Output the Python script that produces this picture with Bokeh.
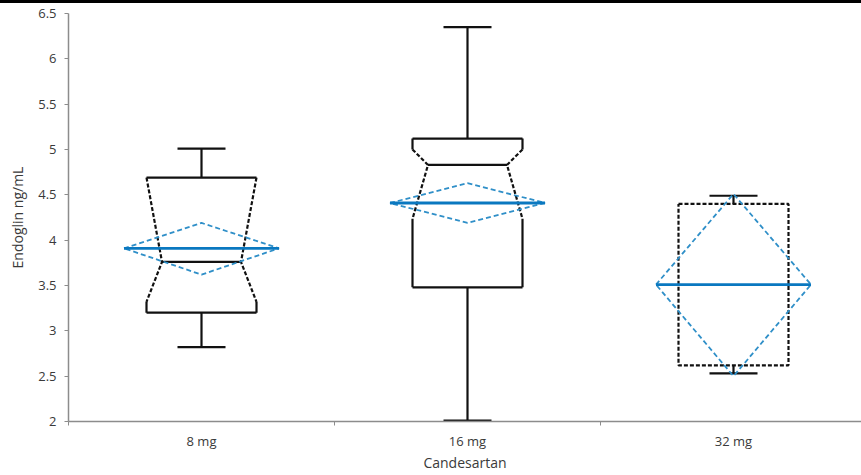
from bokeh.plotting import figure
from bokeh.models import Range1d, FixedTicker, Div
from bokeh.layouts import column
from bokeh.embed import file_html
from bokeh.resources import INLINE

# ---- data ----
groups = ["8 mg", "16 mg", "32 mg"]
whisker_lo = [2.82, 2.01, 2.53]
q1 = [3.20, 3.48, 2.62]
median = [3.76, 4.83, 3.51]
q3 = [4.69, 5.12, 4.40]
whisker_hi = [5.01, 6.35, 4.49]
notch_lo = [3.32, 4.235, None]
notch_hi = [4.69, 5.00, None]
box_style = ["notched", "notched", "dashed"]
mean = [3.91, 4.41, 3.51]
mean_ci_lo = [3.62, 4.19, 2.50]
mean_ci_hi = [4.19, 4.63, 4.51]
y_ticks = [2, 2.5, 3, 3.5, 4, 4.5, 5, 5.5, 6, 6.5]

# ---- style constants ----
PX_PER_CAT = 266.0
FRAME_W = 793
BOX_HW = 55 / PX_PER_CAT
NOTCH_HW = 39.5 / PX_PER_CAT
CAP_HW = 24 / PX_PER_CAT
DIAMOND_HW = 77.5 / PX_PER_CAT
FONT = "Open Sans"
TEXT_COLOR = "#3a3a3a"
AXIS_COLOR = "#8c8c8c"

p = figure(width=861, height=472,
           x_range=Range1d(0, FRAME_W / PX_PER_CAT), y_range=Range1d(2, 6.5),
           output_backend="svg", toolbar_location=None,
           min_border_left=68, min_border_right=0, min_border_top=10, min_border_bottom=54)
p.grid.visible = False
p.outline_line_color = None
p.background_fill_color = "white"
p.border_fill_color = "white"

sx, sy, dx, dy = [], [], [], []   # solid and dashed black segments
for i, g in enumerate(groups):
    c = i + 0.5
    # whiskers + caps
    sx += [[c, c], [c, c], [c - CAP_HW, c + CAP_HW], [c - CAP_HW, c + CAP_HW]]
    sy += [[q3[i], whisker_hi[i]], [q1[i], whisker_lo[i]],
           [whisker_hi[i], whisker_hi[i]], [whisker_lo[i], whisker_lo[i]]]
    if box_style[i] == "notched":
        sx += [[c - BOX_HW, c + BOX_HW], [c - BOX_HW, c + BOX_HW], [c - NOTCH_HW, c + NOTCH_HW]]
        sy += [[q3[i], q3[i]], [q1[i], q1[i]], [median[i], median[i]]]
        for s in (-1, 1):
            if notch_hi[i] < q3[i]:
                sx.append([c + s * BOX_HW] * 2)
                sy.append([q3[i], notch_hi[i]])
            dx.append([c + s * BOX_HW, c + s * NOTCH_HW, c + s * BOX_HW])
            dy.append([notch_hi[i], median[i], notch_lo[i]])
            sx.append([c + s * BOX_HW] * 2)
            sy.append([notch_lo[i], q1[i]])
    else:
        dx.append([c - BOX_HW, c + BOX_HW, c + BOX_HW, c - BOX_HW, c - BOX_HW])
        dy.append([q3[i], q3[i], q1[i], q1[i], q3[i]])

p.multi_line(xs=sx, ys=sy, line_color="#111111", line_width=2.2)
p.multi_line(xs=dx, ys=dy, line_color="#111111", line_width=2.2, line_dash="4 2")

# mean diamonds and mean lines
mx, my, lx, ly = [], [], [], []
for i, g in enumerate(groups):
    c = i + 0.5
    mx.append([c - DIAMOND_HW, c, c + DIAMOND_HW, c, c - DIAMOND_HW])
    my.append([mean[i], mean_ci_hi[i], mean[i], mean_ci_lo[i], mean[i]])
    lx.append([c - DIAMOND_HW, c + DIAMOND_HW])
    ly.append([mean[i], mean[i]])
p.multi_line(xs=mx, ys=my, line_color="#2f8fc8", line_width=1.8, line_dash="5 3")
p.multi_line(xs=lx, ys=ly, line_color="#0a78c0", line_width=2.8)

# axes
xa = p.xaxis[0]
xa.ticker = FixedTicker(ticks=[0.5, 1.5, 2.5], minor_ticks=[0, 1, 2, 3])
xa.major_label_overrides = {0.5: groups[0], 1.5: groups[1], 2.5: groups[2]}
xa.major_tick_out = 0
xa.major_tick_in = 0
xa.minor_tick_out = 4
xa.minor_tick_in = 0
xa.major_label_standoff = 6
xa.axis_label = "Candesartan"
xa.axis_label_standoff = 0

ya = p.yaxis[0]
ya.ticker = FixedTicker(ticks=y_ticks, minor_ticks=[])
ya.major_label_overrides = {t: ("%g" % t) for t in y_ticks}
ya.major_tick_out = 4
ya.major_tick_in = 0
ya.minor_tick_out = 0
ya.minor_tick_in = 0
ya.major_label_standoff = 8
ya.axis_label = "Endoglin ng/mL"
ya.axis_label_standoff = 8

for ax in (xa, ya):
    ax.axis_line_color = AXIS_COLOR
    ax.axis_line_width = 1.5
    ax.major_tick_line_color = AXIS_COLOR
    ax.minor_tick_line_color = AXIS_COLOR
    ax.major_label_text_font = FONT
    ax.major_label_text_font_size = "13px"
    ax.major_label_text_color = TEXT_COLOR
    ax.axis_label_text_font = FONT
    ax.axis_label_text_font_size = "14px"
    ax.axis_label_text_font_style = "normal"
    ax.axis_label_text_color = TEXT_COLOR

topbar = Div(text="", width=861, height=3, styles={"background-color": "black"}, margin=(0, 0, 0, 0))
layout = column(topbar, p, spacing=0)

open("out.html", "w").write(file_html(layout, INLINE))
